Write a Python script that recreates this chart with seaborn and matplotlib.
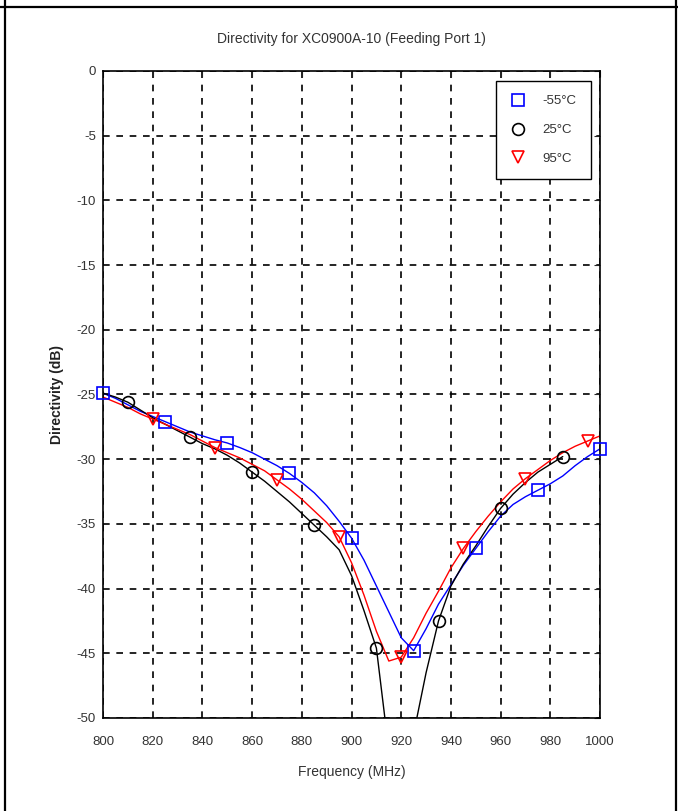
import numpy as np
import pandas as pd
import matplotlib.pyplot as plt
import seaborn as sns
from matplotlib.lines import Line2D

# frequency grid of the traced curves (MHz)
freq = list(range(800, 1001, 5))

# directivity (dB)
dir_m55 = [-24.9, -25.3, -25.8, -26.3, -26.7, -27.1, -27.5, -27.9, -28.2, -28.5,
           -28.75, -29.1, -29.5, -30.0, -30.5, -31.1, -31.8, -32.6, -33.6, -34.8,
           -36.1, -37.8, -39.8, -41.8, -43.8, -44.8, -43.1, -41.2, -39.7, -38.2,
           -36.9, -35.6, -34.4, -33.5, -32.9, -32.4, -31.9, -31.3, -30.5, -29.8,
           -29.2]
dir_25 = [-24.9, -25.2, -25.6, -26.2, -26.8, -27.3, -27.8, -28.3, -28.8, -29.2,
          -29.7, -30.3, -31.0, -31.7, -32.5, -33.3, -34.2, -35.1, -36.0, -37.0,
          -39.0, -41.7, -44.6, -52.5, -56.0, -51.2, -46.5, -42.5, -39.8, -38.1,
          -36.7, -35.2, -33.8, -32.7, -31.8, -31.0, -30.4, -29.8]
dir_95 = [-25.2, -25.6, -26.0, -26.5, -26.9, -27.3, -27.7, -28.1, -28.6, -29.1,
          -29.5, -29.9, -30.4, -30.9, -31.6, -32.3, -33.1, -34.0, -34.9, -36.0,
          -38.0, -40.5, -43.3, -45.6, -45.3, -43.8, -41.9, -40.2, -38.4, -36.9,
          -35.6, -34.4, -33.3, -32.3, -31.5, -30.8, -30.1, -29.5, -29.0, -28.6,
          -28.2]

# frequencies where markers are drawn
mark_m55 = [800, 825, 850, 875, 900, 925, 950, 975, 1000]
mark_25 = [810, 835, 860, 885, 910, 935, 960, 985]
mark_95 = [820, 845, 870, 895, 920, 945, 970, 995]

labels = ["-55°C", "25°C", "95°C"]
colors = ["blue", "black", "red"]
markers = ["s", "o", "v"]

sns.set_style("white")
plt.rcParams["font.family"] = ["Liberation Sans Narrow", "Liberation Sans", "DejaVu Sans"]
plt.rcParams["axes.unicode_minus"] = False
txt = "#333333"

fig = plt.figure(figsize=(6.78, 8.11), dpi=100)
ax = fig.add_axes([0.152, 0.1147, 0.733, 0.7978])

series = [
    (dir_m55, mark_m55),
    (dir_25, mark_25),
    (dir_95, mark_95),
]

for (vals, marks), col, mk in zip(series, colors, markers):
    x = freq[:len(vals)]
    # curve, clipped at the axes
    sns.lineplot(x=x, y=vals, ax=ax, color=col, lw=1.0)
    # markers, not clipped (edge markers sit on the frame)
    mx = marks
    my = [vals[x.index(f)] for f in marks]
    sns.lineplot(
        x=mx, y=my, ax=ax,
        linestyle="none", marker=mk,
        mfc="none", mec=col, mew=1.2, ms=8.5,
        clip_on=False, zorder=5
    )

ax.set_xlim(800, 1000)
ax.set_ylim(-50, 0)
ax.set_xticks(range(800, 1001, 20))
ax.set_yticks(range(-50, 1, 5))

ax.grid(True, color="black", linestyle=(0, (4, 4)), linewidth=1.2)
for s in ax.spines.values():
    s.set_color("black")
    s.set_linewidth(1.2)

ax.tick_params(direction="in", length=4, top=True, right=True,
               labelsize=9.5, labelcolor=txt)
ax.tick_params(axis="x", pad=13)
ax.tick_params(axis="y", pad=5)

ax.set_title("Directivity for XC0900A-10 (Feeding Port 1)",
             fontsize=10, color=txt, pad=20)
ax.set_xlabel("Frequency (MHz)", fontsize=10, color=txt, labelpad=12)
ax.set_ylabel("Directivity (dB)", fontsize=10, fontweight="bold",
              color="#222222", labelpad=9)

handles = [
    Line2D([], [], linestyle="none", marker=mk, mfc="none", mec=col,
           mew=1.2, ms=8.5)
    for col, mk in zip(colors, markers)
]
leg = ax.legend(handles, labels, loc="upper right",
                bbox_to_anchor=(0.982, 0.985), borderaxespad=0,
                fontsize=9.5, labelspacing=1.25, borderpad=1.1,
                handlelength=1.0, handletextpad=1.4,
                fancybox=False, framealpha=1, edgecolor="black")
leg.get_frame().set_linewidth(1.0)
leg.set_zorder(10)
for t in leg.get_texts():
    t.set_color(txt)

# table-cell border around the figure
fig.add_artist(Line2D([0.008, 0.008], [0, 1], color="black", lw=1.6,
                      transform=fig.transFigure))
fig.add_artist(Line2D([0.997, 0.997], [0, 1], color="black", lw=1.6,
                      transform=fig.transFigure))
fig.add_artist(Line2D([0, 1], [0.9915, 0.9915], color="black", lw=1.6,
                      transform=fig.transFigure))

fig.savefig("out.png", dpi=100)
